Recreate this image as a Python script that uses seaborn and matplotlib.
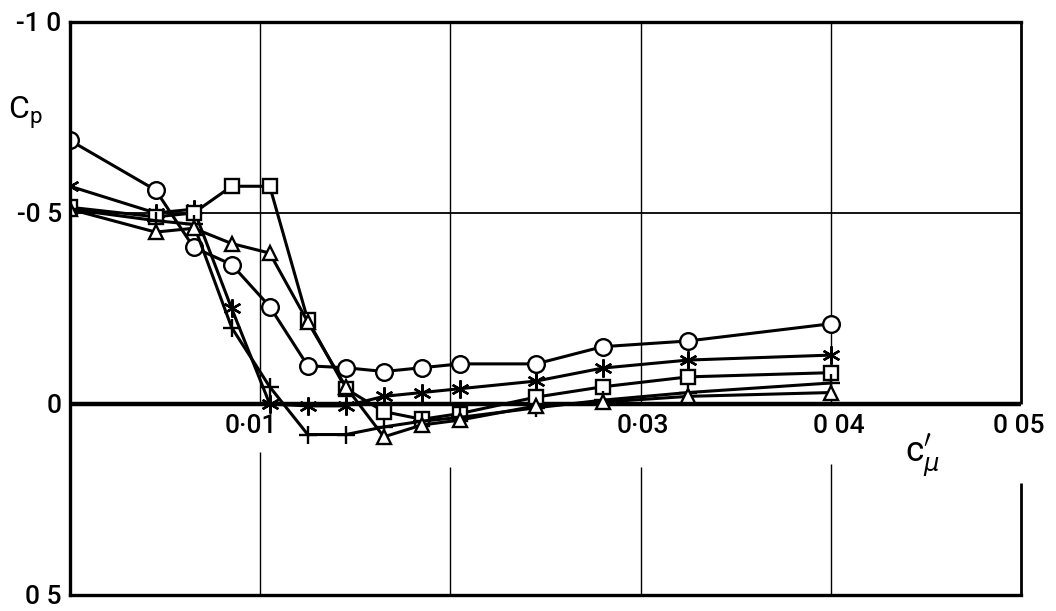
import pandas as pd
import matplotlib
matplotlib.use("Agg")
import matplotlib.pyplot as plt
import seaborn as sns

# blowing momentum coefficient c'_mu, shared by every run
c_mu = [0.0, 0.0045, 0.0065, 0.0085, 0.0105, 0.0125, 0.0145, 0.0165,
        0.0185, 0.0205, 0.0245, 0.028, 0.0325, 0.040]

# pressure coefficient (one list per symbol)
cp_circle = [-0.69, -0.56, -0.41, -0.365, -0.255, -0.10, -0.095, -0.085,
             -0.095, -0.105, -0.105, -0.15, -0.165, -0.21]
cp_asterisk = [-0.57, -0.50, -0.51, -0.25, 0.0, 0.005, 0.005, -0.02,
               -0.03, -0.04, -0.06, -0.094, -0.115, -0.128]
cp_square = [-0.515, -0.49, -0.50, -0.57, -0.57, -0.22, -0.04, 0.02,
             0.04, 0.025, -0.018, -0.045, -0.071, -0.082]
cp_plus = [-0.51, -0.48, -0.47, -0.20, -0.045, 0.08, 0.08, 0.06,
           0.045, 0.035, 0.01, -0.01, -0.03, -0.055]
cp_triangle = [-0.51, -0.45, -0.46, -0.42, -0.395, -0.215, -0.045, 0.086,
               0.055, 0.042, 0.005, -0.005, -0.02, -0.03]

y_ticks = [-1.0, -0.5, 0.0, 0.5]
y_tick_labels = ["-1 0", "-0 5", "0", "0 5"]
x_labels = ["0·01", "0·03", "0 04", "0 05"]

series = {
    "circle": cp_circle,
    "asterisk": cp_asterisk,
    "square": cp_square,
    "plus": cp_plus,
    "triangle": cp_triangle,
}
df = pd.concat(
    [pd.DataFrame({"c_mu": c_mu, "cp": vals, "run": name}) for name, vals in series.items()],
    ignore_index=True,
)

marker_style = {
    "circle": dict(marker="o", ms=12),
    "asterisk": dict(marker=(6, 2, 0), ms=13),
    "square": dict(marker="s", ms=10),
    "plus": dict(marker="+", ms=13),
    "triangle": dict(marker="^", ms=10.5),
}

sns.set_style("white")
plt.rcParams['font.family'] = ['Roboto', 'DejaVu Sans']
plt.rcParams['text.color'] = 'black'
plt.rcParams['ytick.color'] = 'black'

fig = plt.figure(figsize=(10.56, 6.11), dpi=100)
ax = fig.add_axes([0.0663, 0.0262, 0.9006, 0.9378])

for name in series:
    sns.lineplot(
        data=df[df.run == name], x="c_mu", y="cp", ax=ax,
        color="black", lw=2.2, mfc="white", mec="black", mew=1.7,
        estimator=None, sort=False, **marker_style[name]
    )

ax.set_xlim(0, 0.05)
ax.set_ylim(0.5, -1.0)
ax.set_xlabel("")
ax.set_ylabel("")

# grid: thin -0.5 line, heavy zero line, verticals broken round the labels
ax.hlines(-0.5, 0, 0.05, color="black", lw=1.3, zorder=1)
ax.axhline(0, color="black", lw=3.2, zorder=1)
ax.vlines([0.01, 0.02, 0.03, 0.04], -1.0, 0.0, color="black", lw=1.0, zorder=1)
ax.vlines(0.01, 0.126, 0.5, color="black", lw=1.0, zorder=1)
ax.vlines([0.02, 0.03], 0.165, 0.5, color="black", lw=1.0, zorder=1)
ax.vlines(0.04, 0.157, 0.5, color="black", lw=1.0, zorder=1)
ax.vlines(0.05, -1.0, 0.0, color="black", lw=2.0, clip_on=False, zorder=1)
ax.vlines(0.05, 0.207, 0.5, color="black", lw=2.0, clip_on=False, zorder=1)

for side in ["left", "top", "bottom"]:
    ax.spines[side].set_linewidth(2.4)
    ax.spines[side].set_color("black")
ax.spines["right"].set_visible(False)

ax.set_xticks([])
ax.set_yticks(y_ticks)
ax.set_yticklabels(y_tick_labels, fontsize=19, fontweight="medium")
ax.tick_params(axis="y", length=0, pad=6)

for lab, xpos in zip(x_labels, [0.0095, 0.0301, 0.0404, 0.0499]):
    ax.text(xpos, 0.058, lab, ha="center", va="center", fontsize=19, fontweight="medium")

ax.text(0.0448, 0.135, r"c$^{\prime}_{\mu}$", ha="center", va="center", fontsize=25)
fig.text(0.024, 0.815, r"C$_\mathregular{p}$", ha="center", va="center", fontsize=23)

fig.savefig("out.png", dpi=100)
